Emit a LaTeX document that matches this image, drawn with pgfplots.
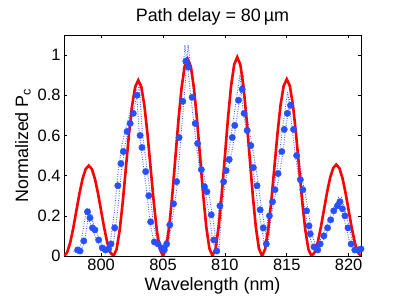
\documentclass[border=0pt]{standalone}
\usepackage{fontspec}
\setmainfont{Liberation Sans}
\usepackage{pgfplots}
\usepackage{pgfplotstable}
\pgfplotsset{compat=1.18}
\definecolor{dotblue}{RGB}{40,80,255}
\definecolor{linered}{RGB}{255,0,0}
\pgfplotstableread{
x y
797.9 0.02
798.2 0.03
798.5 0.06
798.8 0.18
798.95 0.23
799.2 0.17
799.5 0.12
799.8 0.07
800.2 0.03
800.6 0.03
800.9 0.08
801.2 0.22
801.5 0.42
801.8 0.55
802.1 0.63
802.4 0.70
802.7 0.78
802.95 0.85
803.2 0.62
803.5 0.47
803.8 0.33
804.1 0.16
804.4 0.07
804.8 0.04
805.1 0.03
805.4 0.09
805.7 0.21
806.0 0.34
806.3 0.58
806.6 0.80
806.9 1.05
807.1 0.95
807.4 0.78
807.7 0.62
808.0 0.47
808.3 0.36
808.6 0.30
808.9 0.19
809.15 0.07
809.4 0.04
809.65 0.24
809.9 0.37
810.2 0.45
810.5 0.54
810.8 0.67
811.1 0.80
811.35 0.90
811.6 0.72
811.9 0.61
812.2 0.50
812.5 0.39
812.8 0.25
813.1 0.14
813.35 0.05
813.6 0.19
813.9 0.29
814.2 0.38
814.5 0.49
814.8 0.64
815.2 0.82
815.5 0.67
815.8 0.51
816.1 0.39
816.4 0.30
816.7 0.19
817.0 0.09
817.3 0.04
817.6 0.04
817.9 0.09
818.2 0.13
818.5 0.18
818.8 0.23
819.1 0.26
819.3 0.29
819.6 0.22
819.9 0.15
820.2 0.07
820.5 0.03
820.9 0.03
}\densetrace
\begin{document}
\begin{tikzpicture}
\useasboundingbox (-64bp,-44bp) rectangle (335bp,256bp);
\begin{axis}[
  scale only axis, width=297bp, height=221bp,
  xmin=797, xmax=821, ymin=0, ymax=1.1,
  xtick={800,805,810,815,820}, xticklabels={800,805,810,815,820},
  ytick={0,0.2,0.4,0.6,0.8,1}, yticklabels={0,0.2,0.4,0.6,0.8,1},
  tick align=inside, major tick length=3bp, tick pos=both,
  axis line style={line width=0.6bp},
  tick style={line width=0.5bp, black},
  tick label style={font=\fontsize{16.5}{18}\selectfont},
  label style={font=\fontsize{18}{20}\selectfont},
  title style={font=\fontsize{18}{20}\selectfont},
  title={Path delay = 80\,µm},
  xlabel={Wavelength (nm)},
  ylabel={Normalized P\textsubscript{c}},
  clip=true,
]
% measured, dense dotted trace (drawn as a narrow band)
\addplot[dotblue!90, line width=0.9bp, dash pattern=on 0.9bp off 1.5bp, xshift=-1.6bp] table[x=x,y=y] {\densetrace};
\addplot[dotblue!90, line width=0.9bp, dash pattern=on 0.9bp off 1.5bp, xshift=1.6bp] table[x=x,y=y] {\densetrace};
% theory
\addplot[linered, line width=2.6bp] coordinates {
(797,0) (797.25,0.0171) (797.5,0.0659) (797.75,0.1389) (798,0.225) (798.25,0.3111) (798.5,0.3841) (798.75,0.4329) (799,0.45) (799.25,0.4329) (799.5,0.3841) (799.75,0.3111) (800,0.225) (800.25,0.1389) (800.5,0.0659) (800.75,0.0171)
(801,0) (801.25,0.0333) (801.5,0.1281) (801.75,0.2701) (802,0.4375) (802.25,0.6049) (802.5,0.7469) (802.75,0.8417) (803,0.875) (803.25,0.8417) (803.5,0.7469) (803.75,0.6049) (804,0.4375) (804.25,0.2701) (804.5,0.1281) (804.75,0.0333)
(805,0) (805.25,0.0373) (805.5,0.1435) (805.75,0.3025) (806,0.49) (806.25,0.6775) (806.5,0.8365) (806.75,0.9427) (807,0.98) (807.25,0.9427) (807.5,0.8365) (807.75,0.6775) (808,0.49) (808.25,0.3025) (808.5,0.1435) (808.75,0.0373)
(809,0) (809.25,0.0377) (809.5,0.1449) (809.75,0.3056) (810,0.495) (810.25,0.6844) (810.5,0.8451) (810.75,0.9523) (811,0.99) (811.25,0.9523) (811.5,0.8451) (811.75,0.6844) (812,0.495) (812.25,0.3056) (812.5,0.1449) (812.75,0.0377)
(813,0) (813.25,0.0335) (813.5,0.1288) (813.75,0.2717) (814,0.44) (814.25,0.6083) (814.5,0.7512) (814.75,0.8465) (815,0.88) (815.25,0.8465) (815.5,0.7512) (815.75,0.6083) (816,0.44) (816.25,0.2717) (816.5,0.1288) (816.75,0.0335)
(817,0) (817.25,0.0173) (817.5,0.0666) (817.75,0.1405) (818,0.2275) (818.25,0.3145) (818.5,0.3884) (818.75,0.4377) (819,0.455) (819.25,0.4377) (819.5,0.3884) (819.75,0.3145) (820,0.2275) (820.25,0.1405) (820.5,0.0666) (820.75,0.0173) (821,0)
};
% measured points
\addplot[only marks, mark=*, mark size=3.2bp, dotblue, mark options={draw=dotblue, fill=dotblue}] coordinates {
(798.1,0.03) (798.3,0.025) (798.6,0.075) (798.9,0.22) (799.1,0.19) (799.3,0.14) (799.5,0.13) (799.8,0.08) (800.1,0.04) (800.35,0.03) (800.6,0.035) (800.8,0.06) (801.1,0.14) (801.35,0.35) (801.6,0.46) (801.8,0.52) (802.1,0.62) (802.35,0.66) (802.6,0.71) (802.9,0.80) (803.15,0.60) (803.3,0.54) (803.6,0.42) (803.85,0.30) (804.0,0.17) (804.3,0.07) (804.6,0.06) (804.9,0.04) (805.1,0.03) (805.3,0.06) (805.55,0.155) (805.85,0.26) (806.1,0.37) (806.3,0.59) (806.6,0.77) (806.85,0.97) (807.05,0.94) (807.35,0.79) (807.6,0.66) (807.8,0.56) (808.1,0.43) (808.35,0.345) (808.55,0.32) (808.9,0.205) (809.1,0.08) (809.35,0.025) (809.6,0.25) (809.9,0.37) (810.1,0.425) (810.35,0.48) (810.6,0.59) (810.8,0.65) (811.1,0.775) (811.4,0.83) (811.55,0.71) (811.8,0.625) (812.1,0.55) (812.3,0.44) (812.6,0.35) (812.85,0.23) (813.1,0.14) (813.35,0.06) (813.6,0.20) (813.85,0.27) (814.05,0.33) (814.3,0.41) (814.6,0.52) (814.8,0.63) (815.05,0.71) (815.3,0.75) (815.55,0.63) (815.8,0.50) (816.1,0.38) (816.3,0.33) (816.6,0.225) (816.8,0.15) (816.9,0.11) (817.2,0.045) (817.5,0.03) (817.7,0.06) (818.0,0.10) (818.3,0.14) (818.55,0.18) (818.8,0.225) (819.1,0.25) (819.3,0.27) (819.5,0.235) (819.7,0.20) (819.95,0.14) (820.2,0.06) (820.5,0.03) (820.8,0.03) (821.0,0.035)
};
\end{axis}
\end{tikzpicture}
\end{document}
